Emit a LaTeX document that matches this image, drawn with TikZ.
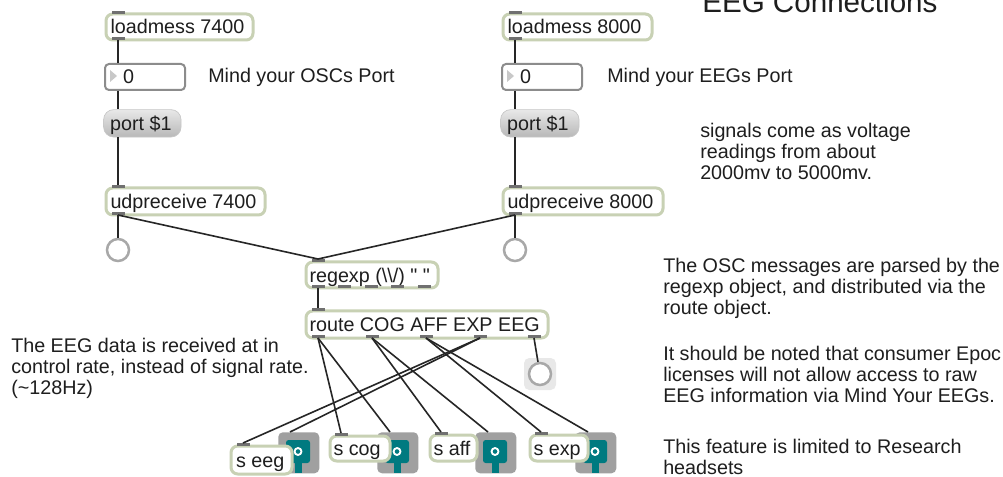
\documentclass[tikz,border=0pt]{standalone}
\usepackage{fontspec}
\newfontfamily\mxface{Liberation Sans}
\usetikzlibrary{calc}

% palette
\definecolor{objline}{RGB}{200,209,180}
\definecolor{tabc}{RGB}{112,112,112}
\definecolor{numline}{RGB}{140,140,140}
\definecolor{numtri}{RGB}{200,200,200}
\definecolor{msgtop}{RGB}{232,232,232}
\definecolor{msgbot}{RGB}{184,184,184}
\definecolor{msgline}{RGB}{198,198,198}
\definecolor{btnline}{RGB}{168,168,168}
\definecolor{btnbgc}{RGB}{232,232,232}
\definecolor{gboxc}{RGB}{160,160,160}
\definecolor{tealc}{RGB}{0,122,128}
\definecolor{cordc}{RGB}{38,38,38}
\definecolor{txt}{RGB}{30,30,30}

\newcommand\mxfont{\mxface\fontsize{14.8pt}{15.75pt}\selectfont}

\tikzset{
  obj/.style={draw=objline, line width=2.25pt, fill=white, rounded corners=5pt,
    inner sep=0pt, text height=10.5pt, text depth=0pt, font=\mxfont, text=txt},
  numbox/.style={draw=numline, line width=1.5pt, fill=white, rounded corners=3pt,
    inner sep=0pt, text height=10.5pt, text depth=0pt, font=\mxfont, text=txt},
  msgbox/.style={draw=msgline, line width=0.5pt, top color=msgtop, bottom color=msgbot,
    rounded corners=7.5pt, inner sep=0pt, text height=10.5pt, text depth=0pt,
    font=\mxfont, text=txt},
  tab/.style={fill=tabc, inner sep=0pt, outer sep=0pt, minimum width=9.75pt, minimum height=2.6pt},
  btn/.style={circle, draw=btnline, line width=1.9pt, fill=white, minimum size=16.5pt, inner sep=0pt},
  btnbg/.style={fill=btnbgc, rounded corners=4pt, minimum size=24pt, inner sep=0pt},
  gbox/.style={fill=gboxc, rounded corners=3.5pt, minimum width=30.75pt, minimum height=30.75pt, inner sep=0pt},
  cord/.style={draw=cordc, line width=1.2pt},
  note/.style={font=\mxfont, text=txt, inner sep=0pt, align=left, anchor=north west},
  caption/.style={font=\mxfont, text=txt, inner sep=0pt, anchor=base west},
}

% Max object box: style, inset, text pad, name, x1, y1, x2, y2, text (px, y downwards)
\newcommand\maxobj[9]{%
  \pgfmathsetlengthmacro\mxW{(#7-#5-2*#2)*0.75pt}%
  \pgfmathsetlengthmacro\mxH{(#8-#6-2*#2)*0.75pt}%
  \pgfmathsetlengthmacro\mxP{#3*0.75pt}%
  \node[#1, anchor=north west, minimum width=\mxW, minimum height=\mxH]
    (#4) at ({#5+#2},{#6+#2}) {\makebox[\mxW][l]{\hspace*{\mxP}#9}};%
}
\newcommand\inlet[3]{\node[tab, anchor=north] (#1) at (#2,#3) {};}
\newcommand\outlet[3]{\node[tab, anchor=south] (#1) at (#2,#3) {};}
% grey send widget with its teal marker
\newcommand\sendmeter[3]{%
  \node[gbox, anchor=north west] (#1) at (#2,#3) {};
  \fill[tealc, rounded corners=2pt] ({#2+8},{#3+8}) rectangle ({#2+32},{#3+31});
  \fill[tealc] ({#2+16.5},{#3+29}) rectangle ({#2+23.5},{#3+41});
  \draw[white, line width=1.4pt] ({#2+20},{#3+19.5}) circle[radius=2.6pt];
}

\begin{document}
\begin{tikzpicture}[x=0.75pt, y=-0.75pt]
\useasboundingbox (0,0) rectangle (1003,477);
\fill[white] (0,0) rectangle (1003,477);

% heading
\node[anchor=base west, inner sep=0pt, font=\mxface\fontsize{22.2pt}{26pt}\selectfont, text=txt]
  (title) at (702,13) {EEG Connections};

% OSC port chain
\maxobj{obj}{1.5}{4.5}{lm1}{103}{11}{253}{40}{loadmess 7400}
\inlet{lm1-i}{118}{11}\outlet{lm1-o}{118}{40}
\maxobj{numbox}{1}{18}{num1}{103}{62}{185}{90}{0}
\fill[numtri] (110,70) -- (117,76) -- (110,82) -- cycle;
\node[caption] (osclbl) at (208,83) {Mind your OSCs Port};
\maxobj{msgbox}{0.3}{6.5}{port1}{103}{109}{181}{137}{port \$1}
\maxobj{obj}{1.5}{4.5}{udp1}{103}{185}{265}{215}{udpreceive 7400}
\inlet{udp1-i}{118}{185}\outlet{udp1-o}{118}{215}
\node[btn] (b1) at (118,250) {};

% EEG port chain
\maxobj{obj}{1.5}{4.5}{lm2}{500}{11}{652}{40}{loadmess 8000}
\inlet{lm2-i}{515}{11}\outlet{lm2-o}{515}{40}
\maxobj{numbox}{1}{18}{num2}{500}{62}{582}{90}{0}
\fill[numtri] (507,70) -- (514,76) -- (507,82) -- cycle;
\node[caption] (eeglbl) at (607,83) {Mind your EEGs Port};
\maxobj{msgbox}{0.3}{6.5}{port2}{500}{109}{579}{137}{port \$1}
\maxobj{obj}{1.5}{4.5}{udp2}{500}{185}{663}{215}{udpreceive 8000}
\inlet{udp2-i}{515}{185}\outlet{udp2-o}{515}{215}
\node[btn] (b2) at (515,250) {};

% parsing and routing
\maxobj{obj}{1.5}{3.5}{rgx}{303}{259}{438}{288}{regexp (\textbackslash\textbackslash/) " "}
\inlet{rgx-i}{318}{259}
\outlet{rgx-o1}{318}{288}\outlet{rgx-o2}{344.5}{288}\outlet{rgx-o3}{371}{288}
\outlet{rgx-o4}{397.5}{288}\outlet{rgx-o5}{424}{288}

\maxobj{obj}{1.5}{3.5}{route}{303}{308}{548}{338}{route COG AFF EXP EEG}
\inlet{route-i}{318}{308}
\outlet{route-o1}{318}{338}\outlet{route-o2}{372}{338}\outlet{route-o3}{426}{338}
\outlet{route-o4}{480}{338}\outlet{route-o5}{534}{338}

\node[btnbg] (b3bg) at (540,374) {};
\node[btn] (b3) at (540,374) {};

% senders
\sendmeter{g1}{278}{432}
\sendmeter{g2}{377}{432}
\sendmeter{g3}{475}{432}
\sendmeter{g4}{575}{432}
\maxobj{obj}{1.5}{5}{seeg}{228}{443}{292}{474}{s eeg}
\inlet{seeg-i}{243}{443}
\maxobj{obj}{1.5}{3.5}{scog}{327}{433}{390}{461}{s cog}
\inlet{scog-i}{341}{433}
\maxobj{obj}{1.5}{3.5}{saff}{427}{432}{477}{461}{s aff}
\inlet{saff-i}{441}{432}
\maxobj{obj}{1.5}{3.5}{sexp}{527}{432}{588}{461}{s exp}
\inlet{sexp-i}{541}{432}

% comments
\node[note] (sig) at (700,123) {signals come as voltage\\readings from about\\2000mv to 5000mv.};
\node[note] (rate) at (11,338) {The EEG data is received at in\\control rate, instead of signal rate.\\(\textasciitilde128Hz)};
\node[note] (parse) at (663,258) {The OSC messages are parsed by the\\regexp object, and distributed via the\\route object.};
\node[note] (lic) at (663,346) {It should be noted that consumer Epoc\\licenses will not allow access to raw\\EEG information via Mind Your EEGs.};
\node[note] (feat) at (663,439) {This feature is limited to Research\\headsets};

% patch cords
\draw[cord] (lm1-o.south) -- (lm1-o.south |- num1.north);
\draw[cord] (lm1-o.south |- num1.south) -- (lm1-o.south |- port1.north);
\draw[cord] (lm1-o.south |- port1.south) -- (udp1-i.north);
\draw[cord] (udp1-o.south) -- (b1);
\draw[cord] (udp1-o.south) -- (rgx-i.north);

\draw[cord] (lm2-o.south) -- (lm2-o.south |- num2.north);
\draw[cord] (lm2-o.south |- num2.south) -- (lm2-o.south |- port2.north);
\draw[cord] (lm2-o.south |- port2.south) -- (udp2-i.north);
\draw[cord] (udp2-o.south) -- (b2);
\draw[cord] (udp2-o.south) -- (rgx-i.north);

\draw[cord] (rgx-o1.south) -- (route-i.north);

\draw[cord] (route-o1.south) -- (scog-i.north);
\draw[cord] (route-o1.south) -- ([xshift=9.75pt]g2.north west);
\draw[cord] (route-o2.south) -- (saff-i.north);
\draw[cord] (route-o2.south) -- ([xshift=9.75pt]g3.north west);
\draw[cord] (route-o3.south) -- (sexp-i.north);
\draw[cord] (route-o3.south) -- ([xshift=9.75pt]g4.north west);
\draw[cord] (route-o4.south) -- (seeg-i.north);
\draw[cord] (route-o4.south) -- ([xshift=9pt]g1.north west);
\draw[cord] (route-o5.south) -- (b3);
\end{tikzpicture}
\end{document}
